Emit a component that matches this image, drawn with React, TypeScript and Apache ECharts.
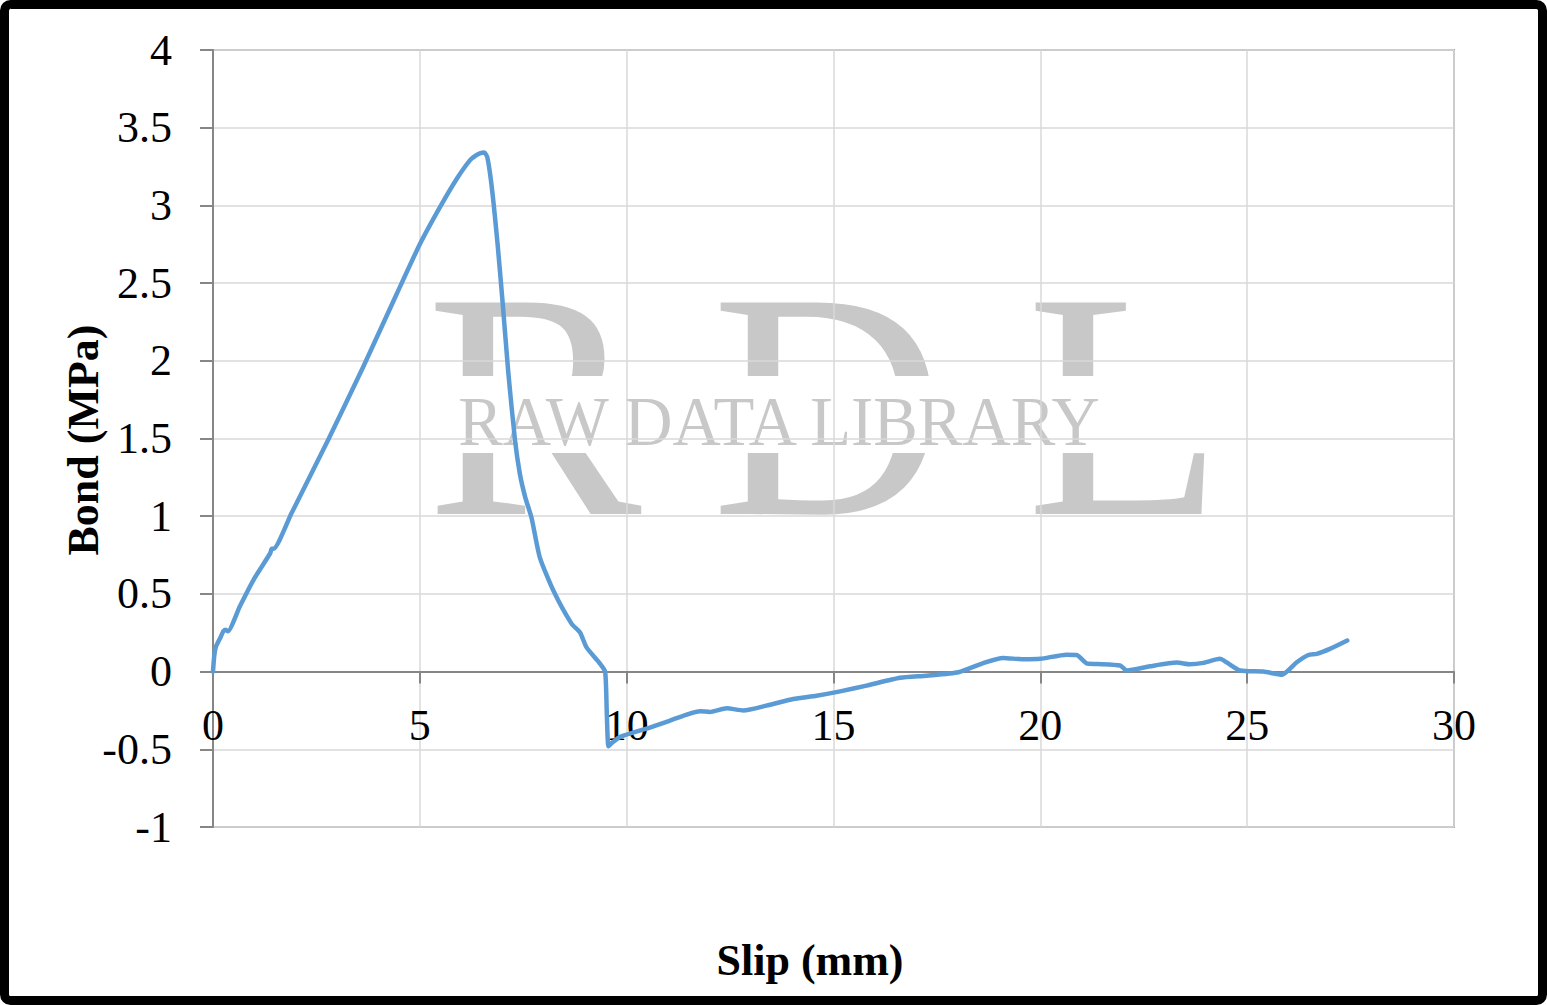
import React, { useEffect, useRef } from "react";
import * as echarts from "echarts";

const slip = [
  0, 0.03, 0.07, 0.18, 0.25, 0.3, 0.36, 0.65, 1.0, 1.38, 1.42, 1.46, 1.9, 2.8, 3.63, 4.44, 5.0, 5.49,
  5.89, 6.21, 6.35, 6.45, 6.56, 6.63, 6.7, 6.78, 6.88, 7.0, 7.14, 7.3, 7.42, 7.55, 7.7, 7.9, 8.23, 8.67,
  8.87, 9.03, 9.36, 9.48, 9.52, 9.56, 9.64, 9.84, 10.56, 11.05, 11.77, 12.01, 12.42, 12.82, 13.38,
  14.03, 14.59, 15.16, 15.8, 16.61, 17.25, 18.02, 18.62, 19.1, 19.59, 20.0, 20.63, 20.88, 21.12,
  21.36, 21.93, 22.09, 22.65, 23.3, 23.62, 23.94, 24.34, 24.5, 24.83, 25.39, 25.84, 26.2, 26.48,
  26.68, 27.0, 27.42,
];
const bond = [
  0, 0.1, 0.16, 0.22, 0.26, 0.27, 0.26, 0.42, 0.6, 0.76, 0.79, 0.79, 1.02, 1.5, 1.96, 2.43, 2.75, 2.99,
  3.17, 3.29, 3.32, 3.335, 3.34, 3.31, 3.2, 3.02, 2.75, 2.38, 1.92, 1.49, 1.27, 1.12, 0.99, 0.735, 0.52,
  0.307, 0.253, 0.156, 0.05, 0.0, -0.27, -0.48, -0.46, -0.42, -0.36, -0.315, -0.255, -0.26, -0.236,
  -0.25, -0.219, -0.176, -0.155, -0.127, -0.09, -0.04, -0.026, -0.004, 0.055, 0.088, 0.079, 0.082,
  0.109, 0.107, 0.053, 0.049, 0.039, 0.007, 0.034, 0.058, 0.047, 0.056, 0.082, 0.06, 0.007, 0.0,
  -0.02, 0.06, 0.107, 0.114, 0.146, 0.2,
];

const xTitle = "Slip (mm)";
const yTitle = "Bond (MPa)";
const watermarkLetters = ["R", "D", "L"];
const watermarkText = "RAW DATA LIBRARY";

export default function App() {
  const ref = useRef<HTMLDivElement>(null);
  useEffect(() => {
    document.body.style.margin = "0";
    const chart = echarts.init(ref.current!, null, { renderer: "svg" });
    const serif = '"Liberation Serif", "Times New Roman", serif';
    const letterX = [534, 828, 1125];
    const letters = watermarkLetters.map((t, i) => ({
      type: "text",
      z: -2,
      x: letterX[i],
      y: 405,
      style: { text: t, font: `323px ${serif}`, fill: "#c8c8c8", align: "center", verticalAlign: "middle" },
    }));
    chart.setOption({
      animation: false,
      backgroundColor: "#ffffff",
      grid: { left: 213, top: 50, width: 1241, height: 777, show: true, borderColor: "#a6a6a6", borderWidth: 2, containLabel: false },
      xAxis: {
        type: "value",
        z: 1,
        min: 0,
        max: 30,
        interval: 5,
        axisLine: { onZero: true, lineStyle: { color: "#868686", width: 2 } },
        axisTick: { show: true, length: 12, lineStyle: { color: "#868686", width: 2 } },
        axisLabel: { fontFamily: serif, fontSize: 44, color: "#000", margin: -124 },
        splitLine: { show: true, lineStyle: { color: "#d9d9d9", width: 1.5 } },
      },
      yAxis: {
        type: "value",
        z: 1,
        min: -1,
        max: 4,
        interval: 0.5,
        axisLine: { show: true, onZero: false, lineStyle: { color: "#868686", width: 2 } },
        axisTick: { show: true, length: 13, lineStyle: { color: "#868686", width: 2 } },
        axisLabel: { fontFamily: serif, fontSize: 44, color: "#000", margin: 41 },
        splitLine: { show: true, lineStyle: { color: "#d9d9d9", width: 1.5 } },
      },
      graphic: [
        ...letters,
        { type: "rect", z: -1, shape: { x: 420, y: 376, width: 810, height: 77 }, style: { fill: "#ffffff" } },
        { type: "text", z: -1, x: 779, y: 421, scaleX: 0.955, style: { text: watermarkText, font: `70px ${serif}`, fill: "#c8c8c8", align: "center", verticalAlign: "middle" } },
        { type: "text", z: 5, x: 810, y: 960, style: { text: xTitle, font: `bold 44px ${serif}`, fill: "#000", align: "center", verticalAlign: "middle" } },
        { type: "text", z: 5, x: 83, y: 440, rotation: Math.PI / 2, style: { text: yTitle, font: `bold 44px ${serif}`, fill: "#000", align: "center", verticalAlign: "middle" } },
        { type: "rect", z: 10, shape: { x: 4.5, y: 4.5, width: 1538, height: 996, r: 6 }, style: { fill: "none", stroke: "#000", lineWidth: 9 } },
      ],
      series: [
        {
          type: "line",
          z: 3,
          data: slip.map((s, i) => [s, bond[i]]),
          showSymbol: false,
          smooth: 0.2,
          lineStyle: { color: "#5b9bd5", width: 4.5, cap: "round", join: "round" },
        },
      ],
    });
    return () => chart.dispose();
  }, []);
  return <div ref={ref} style={{ position: "absolute", left: 0, top: 0, width: 1547, height: 1005 }} />;
}
